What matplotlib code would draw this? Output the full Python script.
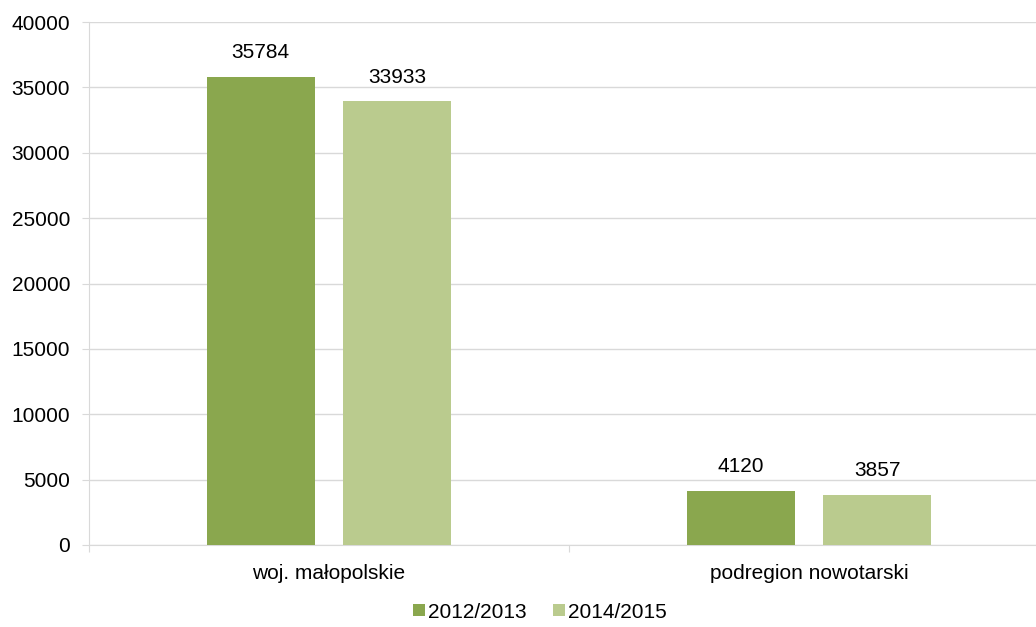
import matplotlib.pyplot as plt
import numpy as np

plt.rcParams['font.family'] = ['Liberation Sans', 'DejaVu Sans']

categories = ['woj. małopolskie', 'podregion nowotarski']
series_names = ['2012/2013', '2014/2015']
values_2012 = [35784, 4120]
values_2014 = [33933, 3857]
colors = ['#8aa74e', '#bacb8e']

fs = 15

fig = plt.figure(figsize=(10.36, 6.27), dpi=100)
# axes spans 89..1049 px horizontally, 22..545 px vertically
ax = fig.add_axes([89 / 1036, 1 - 545 / 627, 960 / 1036, 523 / 627])

x = np.arange(len(categories))
w = 0.225
off = 0.1425
b1 = ax.bar(x - off, values_2012, w, color=colors[0], label=series_names[0], zorder=3)
b2 = ax.bar(x + off, values_2014, w, color=colors[1], label=series_names[1], zorder=3)

for bars in (b1, b2):
    for r in bars:
        ax.text(r.get_x() + r.get_width() / 2, r.get_height() + 1130, str(int(r.get_height())),
                ha='center', va='bottom', fontsize=fs, color='#000000')

ax.set_xlim(-0.5, 1.5)
ax.set_ylim(0, 40000)
ax.set_yticks(np.arange(0, 40001, 5000))
ax.tick_params(axis='y', labelsize=fs, length=5, color='#d9d9d9', pad=8.5)
ax.yaxis.grid(True, color='#d9d9d9', linewidth=1, zorder=0)

ax.set_xticks([-0.5, 0.5, 1.5])
ax.set_xticklabels([])
ax.set_xticks(x, minor=True)
ax.set_xticklabels(categories, minor=True, fontsize=fs)
ax.tick_params(axis='x', which='major', length=5, color='#d9d9d9')
ax.tick_params(axis='x', which='minor', length=0, pad=14)

for s in ['top', 'right']:
    ax.spines[s].set_visible(False)
ax.spines['left'].set_color('#d9d9d9')
ax.spines['bottom'].set_color('#d9d9d9')

fig.legend(loc='center', bbox_to_anchor=(540 / 1036, 1 - 612 / 627), ncol=2, frameon=False,
           fontsize=fs, handlelength=0.55, handleheight=0.55, handletextpad=0.15,
           columnspacing=1.3)

fig.savefig('out.png', dpi=100)
